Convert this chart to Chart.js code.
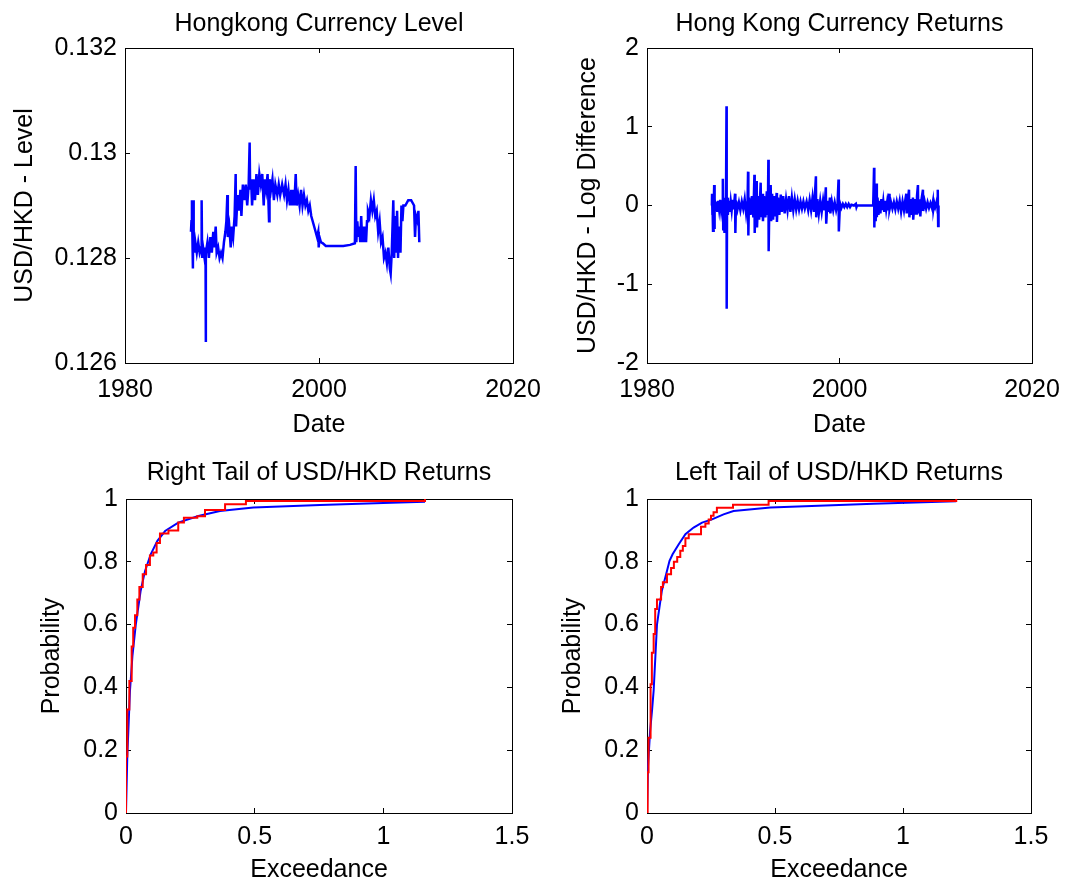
<!DOCTYPE html>
<html>
<head>
<meta charset="utf-8">
<script src="https://cdn.jsdelivr.net/npm/chart.js@4.4.0/dist/chart.umd.min.js"></script>
<style>
  body { margin: 0; background: #fff; width: 1066px; height: 886px; position: relative; overflow: hidden; }
  canvas { position: absolute; }
</style>
</head>
<body>
<canvas id="levelChart" width="545" height="443" style="left:0;top:0"></canvas>
<canvas id="returnChart" width="521" height="443" style="left:545px;top:0"></canvas>
<canvas id="rightTailChart" width="545" height="443" style="left:0;top:443px"></canvas>
<canvas id="leftTailChart" width="521" height="443" style="left:545px;top:443px"></canvas>
<script>
// HKD level
const levelDates = [1986.80,1986.85,1986.90,1986.95,1987.00,1987.04,1987.08,1987.15,1987.25,1987.40,1987.55,1987.70,1987.85,1987.90,1987.95,
  1988.05,1988.20,1988.30,1988.32,1988.35,1988.50,1988.65,1988.80,1988.95,1989.10,1989.20,1989.35,1989.45,1989.60,1989.75,1989.90,
  1990.05,1990.20,1990.35,1990.45,1990.55,1990.60,1990.75,1990.90,1991.00,1991.15,1991.30,1991.41,1991.45,1991.60,1991.75,1991.90,
  1992.00,1992.15,1992.30,1992.45,1992.60,1992.75,1992.85,1992.90,1993.00,1993.10,1993.25,1993.40,1993.55,1993.70,1993.85,
  1994.00,1994.15,1994.30,1994.40,1994.55,1994.70,1994.85,1994.90,1995.05,1995.20,1995.35,1995.50,1995.70,1995.85,
  1996.00,1996.20,1996.40,1996.55,1996.70,1996.85,1997.00,1997.15,1997.25,1997.35,1997.45,1997.60,1997.70,1997.85,
  1998.00,1998.15,1998.30,1998.45,1998.60,1998.75,1998.90,1999.05,1999.20,1999.35,1999.50,1999.65,1999.80,1999.92,1999.97,
  2000.05,2000.20,2000.40,2000.70,2001.50,2002.50,2003.20,2003.70,2003.78,2003.85,2003.95,2004.05,2004.15,2004.25,2004.35,
  2004.45,2004.55,2004.65,2004.75,2004.85,2004.95,2005.05,2005.20,2005.35,2005.50,2005.65,2005.80,2005.95,2006.10,2006.25,
  2006.40,2006.55,2006.70,2006.85,2007.00,2007.15,2007.30,2007.39,2007.50,2007.66,2007.75,2007.85,2007.95,2008.05,2008.15,
  2008.25,2008.40,2008.50,2008.60,2008.70,2008.90,2009.20,2009.50,2009.80,2009.90,2010.00,2010.15,2010.25,2010.34];
const levelValues = [0.1285,0.1287,0.1291,0.1284,0.1278,0.1291,0.1283,0.1281,0.1283,0.1281,0.1283,0.1281,0.1282,0.1291,0.1280,
  0.1282,0.1280,0.1282,0.1264,0.1281,0.1283,0.1280,0.1284,0.1281,0.1285,0.1282,0.1286,0.1281,0.1282,0.1280,0.1281,
  0.1280,0.1283,0.1285,0.1287,0.1292,0.1284,0.1286,0.1282,0.1286,0.1284,0.1288,0.1296,0.1286,0.1292,0.1289,0.1293,
  0.1288,0.1294,0.1291,0.1294,0.1290,0.1294,0.1302,0.1293,0.1295,0.1290,0.1295,0.1291,0.1296,0.1292,0.1296,
  0.1294,0.1296,0.1290,0.1295,0.1293,0.1296,0.1287,0.1295,0.1293,0.1295,0.1291,0.1294,0.1292,0.1294,
  0.1292,0.1294,0.1292,0.1294,0.1291,0.1293,0.1290,0.1293,0.1290,0.1293,0.1290,0.1296,0.1290,0.1292,
  0.1290,0.1293,0.1290,0.1292,0.1290,0.1291,0.1289,0.1290,0.1288,0.1287,0.1286,0.1285,0.1284,0.1285,0.1282,
  0.1284,0.1283,0.12828,0.12823,0.12823,0.12823,0.12825,0.12828,0.12975,0.1283,0.1287,0.1284,0.1286,0.1283,0.1288,
  0.1283,0.1286,0.1283,0.1286,0.1283,0.1287,0.1289,0.1288,0.1291,0.1289,0.1291,0.1288,0.1289,0.1285,0.1287,
  0.1283,0.1284,0.1280,0.1281,0.1279,0.1282,0.1278,0.1277,0.1281,0.1291,0.1280,0.1288,0.1281,0.1289,0.1280,
  0.1286,0.1281,0.1290,0.1287,0.1290,0.1290,0.1291,0.1291,0.1290,0.1284,0.1288,0.1287,0.1289,0.1283];

// log differences
const returnDates = [1986.74,1986.76,1986.78,1986.82,1986.86,1986.90,1986.95,1986.98,1987.00,1987.05,1987.12,1987.20,1987.30,1987.40,
  1987.50,1987.60,1987.70,1987.80,1987.88,1987.92,1987.98,1988.05,1988.12,1988.20,1988.26,1988.28,1988.32,1988.40,1988.50,
  1988.60,1988.70,1988.80,1988.90,1989.00,1989.15,1989.18,1989.25,1989.40,1989.55,1989.70,1989.85,1990.00,1990.15,1990.30,
  1990.45,1990.50,1990.53,1990.60,1990.75,1990.90,1991.05,1991.16,1991.19,1991.30,1991.40,1991.43,1991.55,1991.65,1991.81,
  1991.85,1991.95,1992.05,1992.15,1992.30,1992.45,1992.55,1992.61,1992.64,1992.72,1992.85,1992.90,1993.00,1993.10,1993.20,
  1993.30,1993.47,1993.50,1993.60,1993.75,1993.90,1994.00,1994.15,1994.30,1994.45,1994.60,1994.75,1994.90,1995.05,1995.20,
  1995.35,1995.50,1995.65,1995.80,1995.95,1996.10,1996.25,1996.40,1996.58,1996.75,1996.90,1997.05,1997.20,1997.35,1997.55,
  1997.58,1997.70,1997.85,1998.00,1998.15,1998.30,1998.45,1998.58,1998.62,1998.75,1998.90,1999.00,1999.05,1999.20,1999.35,
  1999.50,1999.65,1999.80,1999.90,1999.93,2000.05,2000.20,2000.35,2000.50,2000.65,2000.80,2000.95,2001.10,2001.24,2001.50,
  2001.70,2001.76,2001.82,2003.50,2003.59,2003.62,2003.70,2003.76,2003.83,2003.88,2003.95,2004.05,2004.15,2004.25,2004.35,
  2004.45,2004.55,2004.65,2004.75,2004.85,2004.95,2005.05,2005.15,2005.20,2005.35,2005.50,2005.65,2005.80,2005.95,2006.10,
  2006.25,2006.40,2006.55,2006.70,2006.85,2006.94,2006.98,2007.10,2007.22,2007.26,2007.40,2007.50,2007.63,2007.66,2007.80,
  2007.95,2008.05,2008.15,2008.18,2008.30,2008.40,2008.50,2008.67,2008.70,2008.85,2009.00,2009.15,2009.30,2009.45,2009.60,
  2009.71,2009.75,2009.85,2009.95,2010.05,2010.15,2010.20,2010.22,2010.25,2010.29];
const returnValues = [0,0.15,-0.12,0.05,-0.32,0.10,-0.05,0.26,-0.30,0.08,-0.06,0.05,-0.08,0.06,
  -0.05,0.07,-0.06,0.05,0.34,-0.30,0.10,-0.35,0.08,-0.10,1.26,-1.31,0.10,-0.12,0.06,
  -0.08,0.05,-0.06,0.07,-0.05,0.15,-0.35,0.06,-0.05,0.04,-0.06,0.05,-0.04,0.08,-0.10,
  0.06,0.43,-0.38,0.10,-0.12,0.12,-0.15,0.39,-0.35,0.15,0.31,-0.28,0.12,-0.18,0.29,
  -0.15,0.15,-0.20,0.12,-0.15,0.18,-0.12,0.58,-0.58,0.10,0.26,-0.20,0.15,-0.18,0.12,
  -0.14,0.16,-0.21,0.10,-0.12,0.14,-0.08,0.12,-0.10,0.08,-0.06,0.12,-0.08,0.10,-0.06,
  0.08,-0.05,0.06,-0.05,0.05,-0.04,0.05,-0.04,0.05,-0.06,0.07,-0.06,0.10,-0.08,0.37,
  -0.15,0.08,-0.10,0.06,-0.08,0.07,-0.06,0.23,-0.23,0.06,-0.08,0.10,-0.10,0.05,-0.06,
  0.04,-0.06,0.03,0.33,-0.33,0.03,-0.03,0.02,-0.02,0.02,-0.02,0.02,-0.02,0.01,0,
  0.02,-0.02,0,0,0.48,-0.28,0.15,-0.20,0.28,-0.15,0.10,-0.12,0.06,-0.10,0.08,
  -0.06,0.05,-0.08,0.06,-0.05,0.04,-0.06,0.15,-0.05,0.04,-0.04,0.04,-0.05,0.05,-0.04,
  0.06,-0.08,0.05,-0.06,0.08,0.15,-0.10,0.06,0.20,-0.15,0.08,-0.12,0.10,-0.18,0.08,
  -0.10,0.12,0.26,-0.10,0.08,-0.14,0.06,0.20,-0.07,0.05,-0.04,0.04,-0.03,0.03,-0.03,
  0.05,-0.05,0.03,-0.02,0.02,0.08,-0.10,0.20,-0.26,0];

// right tail: fitted and empirical CDF (empirical: jump position, level after jump)
const rightFitX = [0,0.005,0.0155,0.025,0.038,0.057,0.074,0.096,0.122,0.152,0.203,0.281,0.365,0.495,0.754,1.0,1.162];
const rightFitY = [0,0.18,0.39,0.5,0.60,0.708,0.771,0.824,0.867,0.898,0.925,0.946,0.962,0.973,0.981,0.987,0.991];
const rightEmpX = [0,0,0.005,0.013,0.022,0.028,0.035,0.044,0.052,0.065,0.078,0.093,0.106,0.119,0.132,0.165,0.203,0.225,0.277,0.307,0.385,0.466,1.162];
const rightEmpY = [0,0.18,0.33,0.42,0.53,0.59,0.63,0.68,0.72,0.76,0.79,0.82,0.83,0.86,0.89,0.90,0.925,0.94,0.945,0.965,0.983,0.994,1.0];

// left tail
const leftFitX = [0,0.004,0.012,0.02,0.026,0.039,0.043,0.058,0.075,0.088,0.100,0.124,0.150,0.182,0.215,0.254,0.299,0.338,0.482,0.885,1.208];
const leftFitY = [0,0.15,0.26,0.33,0.39,0.60,0.623,0.708,0.761,0.803,0.824,0.856,0.888,0.909,0.925,0.935,0.951,0.962,0.973,0.985,0.993];
const leftEmpX = [0,0.0025,0.006,0.014,0.019,0.026,0.032,0.039,0.055,0.062,0.078,0.094,0.105,0.118,0.130,0.140,0.150,0.163,0.211,0.228,0.241,0.250,0.260,0.273,0.336,0.475,1.208];
const leftEmpY = [0,0.13,0.24,0.41,0.51,0.57,0.65,0.68,0.72,0.735,0.76,0.78,0.80,0.815,0.835,0.85,0.875,0.888,0.912,0.922,0.935,0.947,0.958,0.972,0.982,0.994,1.0];

const FONT = { family: "'Liberation Sans', Arial, sans-serif", size: 25, weight: 'normal' };
const fmt = v => String(+Number(v).toFixed(4));

function pts(xs, ys) {
  return xs.map((x, i) => ({ x: x, y: ys[i] }));
}

function line(xs, ys, color, order, width, stepped) {
  return {
    data: pts(xs, ys),
    showLine: true,
    borderColor: color,
    backgroundColor: color,
    borderWidth: width,
    pointRadius: 0,
    order: order,
    stepped: stepped || false
  };
}

function zeroPad(s) {
  s.paddingLeft = 0; s.paddingRight = 0; s.paddingTop = 0; s.paddingBottom = 0;
}

function makePlot(id, o) {
  const grid = { drawOnChartArea: false, tickLength: -5, color: '#000', lineWidth: 1 };
  const border = { color: '#000', width: 1 };
  new Chart(document.getElementById(id), {
    type: 'scatter',
    data: { datasets: o.datasets },
    options: {
      responsive: false,
      animation: false,
      devicePixelRatio: 1,
      layout: { padding: { left: 0, top: 0, bottom: 0, right: o.padRight } },
      plugins: {
        legend: { display: false },
        tooltip: { enabled: false }
      },
      scales: {
        x: {
          type: 'linear', position: 'bottom', min: o.xMin, max: o.xMax,
          ticks: { stepSize: o.xStep, color: '#000', font: FONT, padding: o.xTickPad, maxRotation: 0, autoSkip: false, callback: fmt },
          grid: grid, border: border,
          title: { display: true, text: o.xTitle, color: '#000', font: FONT, padding: { top: 0, bottom: o.xTitlePad } },
          afterFit: s => { s.height = o.xHeight; zeroPad(s); }
        },
        y: {
          type: 'linear', position: 'left', min: o.yMin, max: o.yMax,
          ticks: { stepSize: o.yStep, color: '#000', font: FONT, padding: 13, autoSkip: false, callback: fmt },
          grid: grid, border: border,
          title: { display: true, text: o.yTitle, color: '#000', font: FONT, padding: { top: o.yTitlePad, bottom: 0 } },
          afterFit: s => { s.width = o.yWidth; zeroPad(s); }
        },
        // top axis carries the plot title, so it centres on the box
        x2: {
          type: 'linear', position: 'top', min: o.xMin, max: o.xMax,
          ticks: { display: false, stepSize: o.xStep },
          grid: grid, border: border,
          title: { display: true, text: o.title, color: '#000', font: FONT, padding: { top: o.titleTop, bottom: 0 } },
          afterFit: s => { s.height = o.topHeight; zeroPad(s); }
        },
        y2: {
          type: 'linear', position: 'right', min: o.yMin, max: o.yMax,
          ticks: { display: false, stepSize: o.yStep },
          grid: grid, border: border,
          afterFit: s => { s.width = 0; zeroPad(s); }
        }
      }
    }
  });
}

makePlot('levelChart', {
  title: 'Hongkong Currency Level', xTitle: 'Date', yTitle: 'USD/HKD - Level',
  xMin: 1980, xMax: 2020, xStep: 20, yMin: 0.126, yMax: 0.132, yStep: 0.002,
  datasets: [line(levelDates, levelValues, '#0000ff', 0, 2.5)],
  padRight: 32, yWidth: 125, xHeight: 80, topHeight: 48,
  titleTop: 9, yTitlePad: 10, xTickPad: 17, xTitlePad: 3
});

makePlot('returnChart', {
  title: 'Hong Kong Currency Returns', xTitle: 'Date', yTitle: 'USD/HKD - Log Difference',
  xMin: 1980, xMax: 2020, xStep: 20, yMin: -2, yMax: 2, yStep: 1,
  datasets: [line(returnDates, returnValues, '#0000ff', 0, 2.5)],
  padRight: 34, yWidth: 102, xHeight: 80, topHeight: 48,
  titleTop: 9, yTitlePad: 28, xTickPad: 17, xTitlePad: 3
});

makePlot('rightTailChart', {
  title: 'Right Tail of USD/HKD Returns', xTitle: 'Exceedance', yTitle: 'Probability',
  xMin: 0, xMax: 1.5, xStep: 0.5, yMin: 0, yMax: 1, yStep: 0.2,
  datasets: [line(rightEmpX, rightEmpY, '#ff0000', 0, 2, 'before'), line(rightFitX, rightFitY, '#0000ff', 1, 2)],
  padRight: 33, yWidth: 126, xHeight: 73, topHeight: 56,
  titleTop: 15, yTitlePad: 37, xTickPad: 14, xTitlePad: 1
});

makePlot('leftTailChart', {
  title: 'Left Tail of USD/HKD Returns', xTitle: 'Exceedance', yTitle: 'Probability',
  xMin: 0, xMax: 1.5, xStep: 0.5, yMin: 0, yMax: 1, yStep: 0.2,
  datasets: [line(leftEmpX, leftEmpY, '#ff0000', 0, 2, 'before'), line(leftFitX, leftFitY, '#0000ff', 1, 2)],
  padRight: 35, yWidth: 102, xHeight: 73, topHeight: 56,
  titleTop: 15, yTitlePad: 13, xTickPad: 14, xTitlePad: 1
});
</script>
</body>
</html>
